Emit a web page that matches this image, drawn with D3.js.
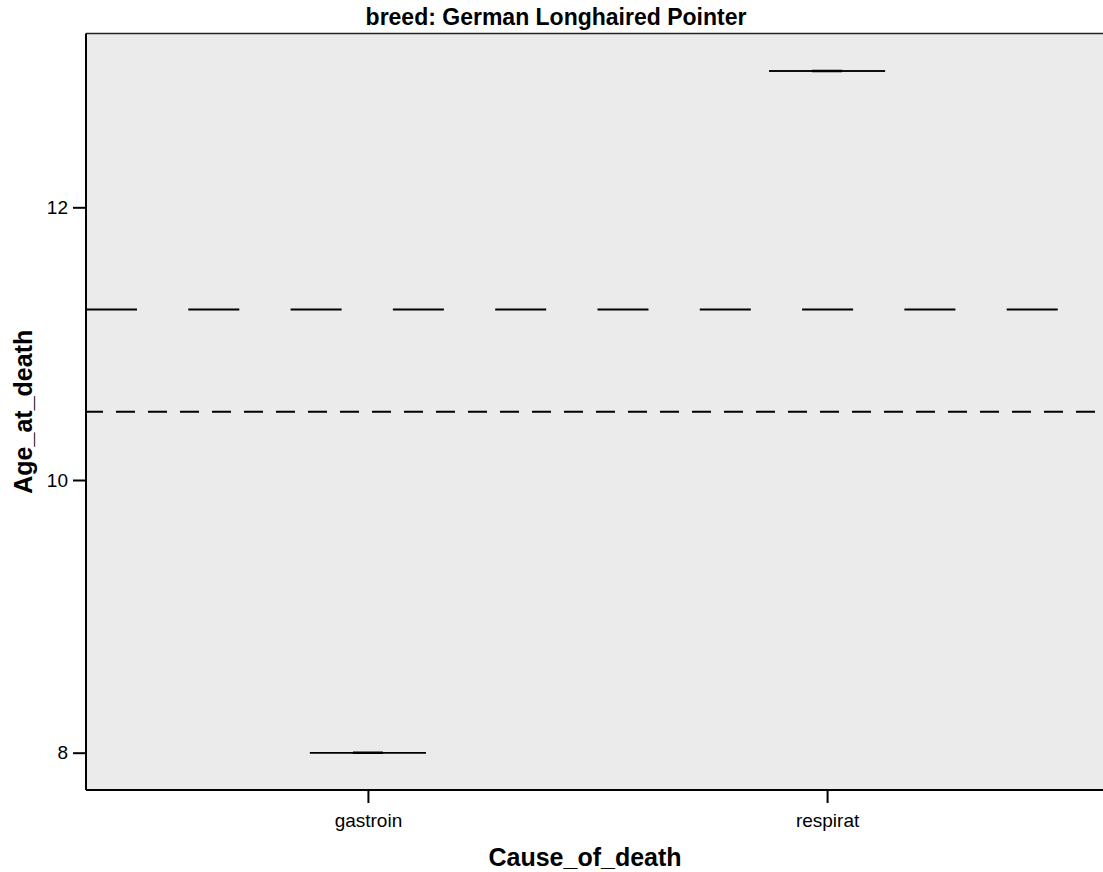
<!DOCTYPE html>
<html>
<head>
    <title>Age at death by cause</title>
    <script src="https://d3js.org/d3.v7.min.js"></script>
    <style>
        body {
            margin: 0;
            background: #fff;
            font-family: "Liberation Sans", Arial, sans-serif;
        }
        svg text {
            font-family: "Liberation Sans", Arial, sans-serif;
        }
    </style>
</head>
<body>
    <svg id="chart" width="1103" height="872"></svg>

    <script>
        // Data
        const categories = ['gastroin', 'respirat'];
        const ageValues = [[8], [13]];
        const yTicks = [8, 10, 12];
        const refLongDash = 11.25;
        const refShortDash = 10.5;
        const titleText = 'breed: German Longhaired Pointer';
        const xTitle = 'Cause_of_death';
        const yTitle = 'Age_at_death';

        const svg = d3.select('#chart');

        // Panel box (right side runs off the picture)
        const panel = { left: 86, right: 1109, top: 33.5, bottom: 790 };

        const x = d3.scalePoint()
            .domain(categories)
            .range([panel.left, panel.right])
            .padding(0.614);

        const y = d3.scaleLinear()
            .domain([7.7264, 13.2747])
            .range([panel.bottom, panel.top]);

        // Background
        svg.append('rect')
            .attr('x', panel.left)
            .attr('y', panel.top)
            .attr('width', panel.right - panel.left)
            .attr('height', panel.bottom - panel.top)
            .attr('fill', '#ebebeb');

        // Top border
        svg.append('line')
            .attr('x1', panel.left).attr('x2', panel.right)
            .attr('y1', panel.top).attr('y2', panel.top)
            .attr('stroke', '#222')
            .attr('stroke-width', 1.5);

        // Reference lines
        svg.append('line')
            .attr('x1', panel.left).attr('x2', panel.right)
            .attr('y1', y(refLongDash)).attr('y2', y(refLongDash))
            .attr('stroke', '#000')
            .attr('stroke-width', 2)
            .attr('stroke-dasharray', '51,51.3');

        svg.append('line')
            .attr('x1', panel.left).attr('x2', panel.right)
            .attr('y1', y(refShortDash)).attr('y2', y(refShortDash))
            .attr('stroke', '#000')
            .attr('stroke-width', 2)
            .attr('stroke-dasharray', '19,13')
            .attr('stroke-dashoffset', 2);

        // Box plots (one value each, so all parts collapse onto one line)
        const capWidth = 116;
        const boxWidth = 30;
        const boxes = svg.append('g').attr('class', 'boxes');

        categories.forEach((cat, i) => {
            const vals = ageValues[i].slice().sort(d3.ascending);
            const q1 = d3.quantile(vals, 0.25);
            const q3 = d3.quantile(vals, 0.75);
            const lo = d3.min(vals);
            const hi = d3.max(vals);
            const cx = x(cat);
            const g = boxes.append('g');

            [lo, hi].forEach(v => {
                g.append('line')
                    .attr('x1', cx - capWidth / 2).attr('x2', cx + capWidth / 2)
                    .attr('y1', y(v)).attr('y2', y(v))
                    .attr('stroke', '#000')
                    .attr('stroke-width', 1.5);
            });

            // path instead of rect so a zero-height box still shows
            const x0 = cx - boxWidth / 2, x1 = cx + boxWidth / 2;
            g.append('path')
                .attr('d', `M${x0},${y(q3)}H${x1}V${y(q1)}H${x0}Z`)
                .attr('fill', 'none')
                .attr('stroke', '#000')
                .attr('stroke-width', 2.5);
        });

        // Axes
        const yAxis = svg.append('g')
            .attr('transform', `translate(${panel.left},0)`)
            .call(d3.axisLeft(y).tickValues(yTicks).tickFormat(d3.format('d'))
                .tickSize(13).tickPadding(5).tickSizeOuter(0));

        const xAxis = svg.append('g')
            .attr('transform', `translate(0,${panel.bottom})`)
            .call(d3.axisBottom(x).tickSize(13).tickPadding(11).tickSizeOuter(0));

        [yAxis, xAxis].forEach(a => {
            a.select('.domain').attr('stroke', '#000').attr('stroke-width', 2);
            a.selectAll('.tick line').attr('stroke', '#000').attr('stroke-width', 2);
            a.selectAll('.tick text')
                .attr('fill', '#000')
                .style('font-size', '19px');
        });

        // Axis lines cover the whole panel
        yAxis.select('.domain').attr('d', `M0,${panel.top}V${panel.bottom}`);
        xAxis.select('.domain').attr('d', `M${panel.left},0H${panel.right}`);

        // Titles
        svg.append('text')
            .attr('x', 556)
            .attr('y', 25)
            .attr('text-anchor', 'middle')
            .style('font-size', '23px')
            .attr('font-weight', 'bold')
            .text(titleText);

        svg.append('text')
            .attr('x', 585)
            .attr('y', 866)
            .attr('text-anchor', 'middle')
            .style('font-size', '25px')
            .attr('font-weight', 'bold')
            .text(xTitle);

        svg.append('text')
            .attr('transform', `translate(32,${(panel.top + panel.bottom) / 2}) rotate(-90)`)
            .attr('text-anchor', 'middle')
            .style('font-size', '25px')
            .attr('font-weight', 'bold')
            .text(yTitle);
    </script>
</body>
</html>
